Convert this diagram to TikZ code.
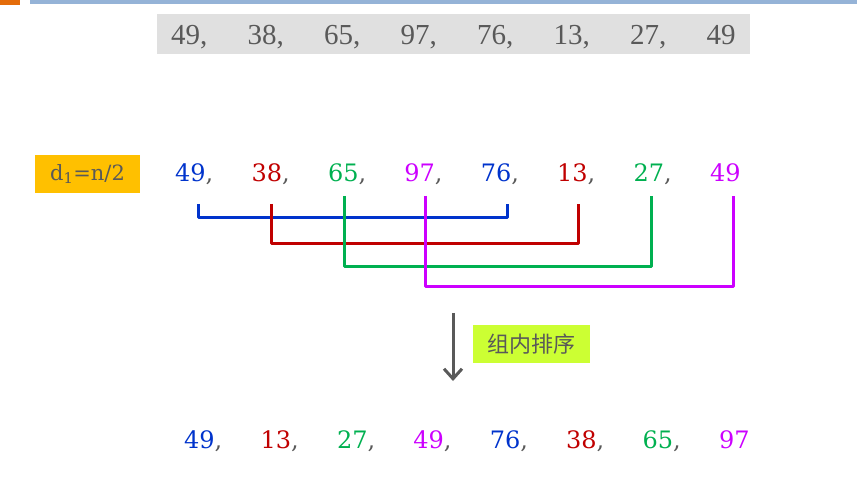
\documentclass[tikz,border=0pt]{standalone}
\usepackage{fontspec}
\setmainfont{DejaVu Serif}
\newfontfamily\topfont{Liberation Serif}
\newfontfamily\cjk{Noto Sans CJK SC}
\usetikzlibrary{positioning,arrows.meta}
\definecolor{gblue}{HTML}{0033CC}
\definecolor{gred}{HTML}{C00000}
\definecolor{ggreen}{HTML}{00B050}
\definecolor{gmag}{HTML}{CC00FF}
\definecolor{txtgray}{HTML}{595959}
\definecolor{boxgray}{HTML}{E0E0E0}
\definecolor{gapbox}{HTML}{FFC000}
\definecolor{limebox}{HTML}{CCFF33}
\definecolor{barblue}{HTML}{95B3D7}
\definecolor{barorange}{HTML}{E46C0A}
\tikzset{
  topnum/.style={font=\topfont\fontsize{29}{29}\selectfont, text=txtgray, inner sep=0pt, anchor=base west},
  num/.style={font=\fontsize{24}{24}\selectfont, text=txtgray, inner sep=0pt, anchor=base west},
  bkt/.style={line width=3pt, line join=round},
  tagbox/.style={inner sep=0pt, text=txtgray}
}
\begin{document}
\begin{tikzpicture}[x=1pt, y=-1pt, >={Straight Barb[length=10pt,width=18pt,line width=3pt]}]
\useasboundingbox (0,0) rectangle (857,494);
% top bar
\fill[barblue] (30,0) rectangle (857,4);
\fill[barorange] (0,0) rectangle (20,5);

% original sequence
\node[fill=boxgray, minimum width=593pt, minimum height=40pt, inner sep=0pt] (orig) at (453.5,34) {};
\foreach \v [count=\i] in {{49,},{38,},{65,},{97,},{76,},{13,},{27,},49}
{
    \node[topnum] (t\i) at ({171+76.5*(\i-1)},45) {\v};
}

% gap d1
\node[tagbox, fill=gapbox, minimum width=105pt, minimum height=38pt, font=\fontsize{21}{21}\selectfont] (gap) at (87.5,174) {d\textsubscript{1}=n/2};
\foreach \v/\c [count=\i] in {49/gblue,38/gred,65/ggreen,97/gmag,76/gblue,13/gred,27/ggreen,49/gmag}
{
    \node[num] (m\i) at ({175+76.4*(\i-1)},182) {\textcolor{\c}{\v}\ifnum\i<8,\fi};
}

% groups
\coordinate (b1) at (198,204);
\coordinate (b2) at (271,204);
\coordinate (b3) at (344,196);
\coordinate (b4) at (425,196);
\coordinate (b5) at (507,204);
\coordinate (b6) at (578,204);
\coordinate (b7) at (651,196);
\coordinate (b8) at (733,196);
\draw[bkt, gblue] (b1) -- ++(0,14) -| (b5);
\draw[bkt, gred] (b2) -- ++(0,40) -| (b6);
\draw[bkt, ggreen] (b3) -- ++(0,71) -| (b7);
\draw[bkt, gmag] (b4) -- ++(0,91) -| (b8);

% sort
\coordinate (arrtop) at (453,313);
\coordinate (arrbot) at (453,381);
\draw[->, line width=3pt, txtgray] (arrtop) -- (arrbot);
\node[tagbox, fill=limebox, minimum width=117pt, minimum height=38pt, font=\cjk\fontsize{22}{22}\selectfont] (sortlbl) at (531.5,344) {组内排序};

% result
\foreach \v/\c [count=\i] in {49/gblue,13/gred,27/ggreen,49/gmag,76/gblue,38/gred,65/ggreen,97/gmag}
{
    \node[num] (r\i) at ({184+76.4*(\i-1)},448) {\textcolor{\c}{\v}\ifnum\i<8,\fi};
}
\end{tikzpicture}
\end{document}
